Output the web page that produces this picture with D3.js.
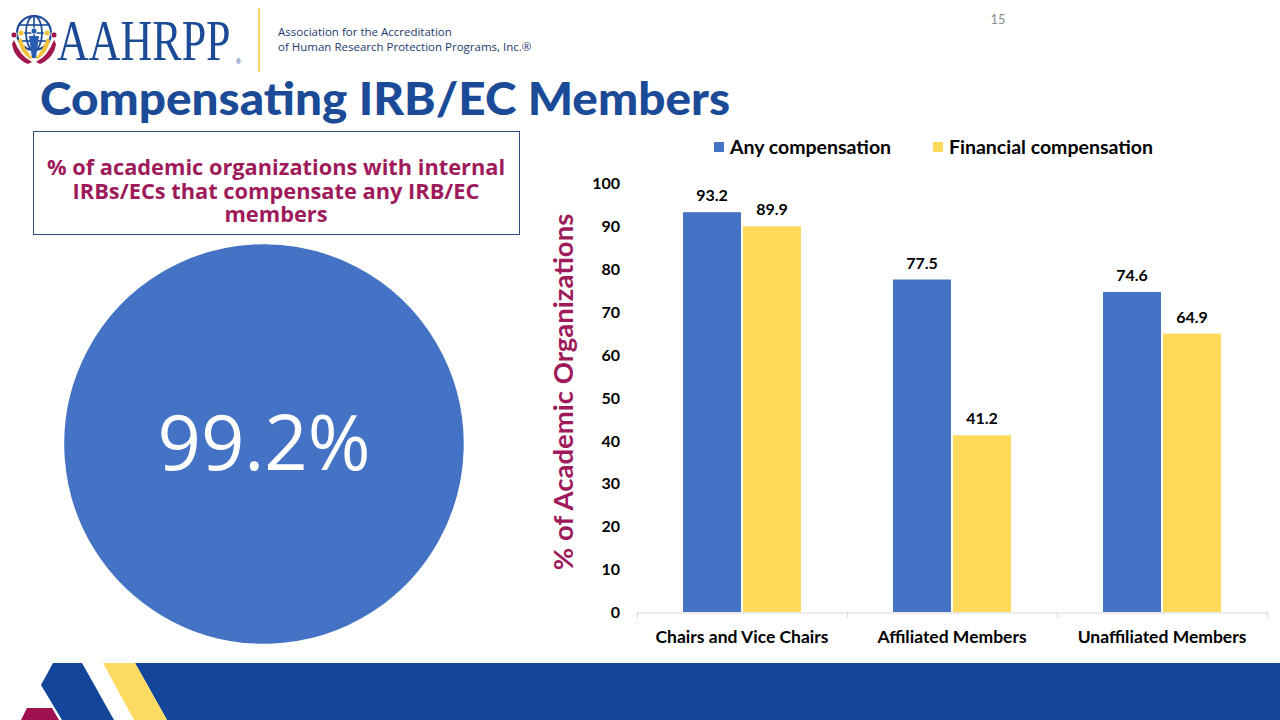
<!DOCTYPE html>
<html><head><meta charset="utf-8">
<script src="https://cdn.jsdelivr.net/npm/d3@7"></script>
<style>html,body{margin:0;padding:0;background:#fff;overflow:hidden}svg{display:block}</style>
</head><body>
<svg id="c" width="1280" height="720"></svg>
<script>
const categories = ["Chairs and Vice Chairs", "Affiliated Members", "Unaffiliated Members"];
const seriesNames = ["Any compensation", "Financial compensation"];
const anyComp = [93.2, 77.5, 74.6];
const financialComp = [89.9, 41.2, 64.9];
const yTicks = [0, 10, 20, 30, 40, 50, 60, 70, 80, 90, 100];
const pieValues = [99.2, 0.8];
const pieLabel = "99.2%";

const BLUE = "#4472C4", GOLD = "#FFD95A", MAROON = "#9E1A5A", NAVY = "#1B4A97", BAND = "#134598";
const svg = d3.select("#c");
const FONT = "Lato, 'Open Sans', sans-serif";

// ---------- header / logo ----------
const logo = svg.append("g");
const g0 = logo.append("g").attr("transform", "translate(34,33)");
g0.append("circle").attr("r", 17).attr("fill", "none").attr("stroke", NAVY).attr("stroke-width", 2.2);
g0.append("ellipse").attr("rx", 8).attr("ry", 17).attr("fill", "none").attr("stroke", NAVY).attr("stroke-width", 1.8);
g0.append("line").attr("x1", 0).attr("x2", 0).attr("y1", -17).attr("y2", 17).attr("stroke", NAVY).attr("stroke-width", 1.6);
[-8, 0, 8].forEach(y => g0.append("line").attr("x1", -Math.sqrt(289 - y * y)).attr("x2", Math.sqrt(289 - y * y)).attr("y1", y).attr("y2", y).attr("stroke", NAVY).attr("stroke-width", 1.6));
const ppl = logo.append("g").attr("transform", "translate(34,44)");
ppl.append("path").attr("d", "M-20,-4 Q-14,12 -2,18 L-6,20 Q-20,14 -22,0 Z").attr("fill", "#A3174F");
ppl.append("path").attr("d", "M20,-4 Q14,12 2,18 L6,20 Q20,14 22,0 Z").attr("fill", "#A3174F");
ppl.append("path").attr("d", "M-13,-6 Q-8,8 -1,14 L-4,15 Q-14,8 -16,-4 Z").attr("fill", "#F2C23A");
ppl.append("path").attr("d", "M13,-6 Q8,8 1,14 L4,15 Q14,8 16,-4 Z").attr("fill", "#F2C23A");
ppl.append("path").attr("d", "M-5,-8 L5,-8 L2,14 L-2,14 Z").attr("fill", "#2A5DB0");
[[-20, -9, "#A3174F"], [20, -9, "#A3174F"], [-13, -11, "#F2C23A"], [13, -11, "#F2C23A"], [0, -13, "#2A5DB0"]].forEach(d =>
  ppl.append("circle").attr("cx", d[0]).attr("cy", d[1]).attr("r", 3).attr("fill", d[2]).attr("stroke", "#fff").attr("stroke-width", 0.8));
logo.append("text").attr("transform", "translate(57,60) scale(1,1.3)").attr("font-family", "'Liberation Serif', 'DejaVu Serif', serif")
  .attr("font-size", 44).attr("fill", NAVY).text("AAHRPP");
logo.append("text").attr("x", 236).attr("y", 64).attr("font-family", "sans-serif").attr("font-size", 7).attr("fill", NAVY).text("®");
logo.append("line").attr("x1", 259).attr("x2", 259).attr("y1", 8).attr("y2", 72).attr("stroke", "#F5D35A").attr("stroke-width", 2);
logo.append("text").attr("x", 278).attr("y", 36).attr("font-family", "'Open Sans', sans-serif").attr("font-size", 11.5).attr("fill", "#1E3A6E").text("Association for the Accreditation");
logo.append("text").attr("x", 278).attr("y", 50.5).attr("font-family", "'Open Sans', sans-serif").attr("font-size", 11.5).attr("fill", "#1E3A6E").text("of Human Research Protection Programs, Inc.®");

svg.append("text").attr("x", 998).attr("y", 24).attr("text-anchor", "middle").attr("font-family", FONT).attr("font-size", 13).attr("fill", "#8c8c8c").text("15");

svg.append("text").attr("x", 40).attr("y", 115).attr("font-family", FONT).attr("font-weight", 900)
  .attr("font-size", 45).attr("fill", NAVY).attr("textLength", 690).attr("lengthAdjust", "spacingAndGlyphs").text("Compensating IRB/EC Members");

// ---------- left box ----------
svg.append("rect").attr("x", 33.5).attr("y", 131.5).attr("width", 486).attr("height", 103).attr("fill", "#fff").attr("stroke", "#2F4E7A").attr("stroke-width", 1);
const boxLines = ["% of academic organizations with internal", "IRBs/ECs that compensate any IRB/EC", "members"];
svg.append("g").selectAll("text").data(boxLines).join("text")
  .attr("x", 276).attr("y", (d, i) => 175 + i * 23.5).attr("text-anchor", "middle")
  .attr("font-family", "'Open Sans', sans-serif").attr("font-weight", 700).attr("font-size", 21.8).attr("fill", MAROON).text(d => d);

// ---------- pie ----------
const pieG = svg.append("g").attr("transform", "translate(264,444)");
const arc = d3.arc().innerRadius(0).outerRadius(199);
pieG.selectAll("path").data(d3.pie().sort(null)(pieValues)).join("path").attr("d", arc)
  .attr("fill", BLUE).attr("stroke", BLUE).attr("stroke-width", 1.5);
pieG.append("text").attr("y", 26).attr("text-anchor", "middle").attr("font-family", "'Open Sans', sans-serif")
  .attr("font-size", 76).attr("fill", "#fff").text(pieLabel);

// ---------- bar chart ----------
const x0 = d3.scaleBand().domain(categories).range([637, 1267]);
const x1 = d3.scaleBand().domain(seriesNames).range([46, 164]).paddingInner(0.034);
const y = d3.scaleLinear().domain([0, 100]).range([612, 183]);
const colors = d3.scaleOrdinal().domain(seriesNames).range([BLUE, GOLD]);
const rows = categories.map((c, i) => ({ cat: c, vals: [{ s: seriesNames[0], v: anyComp[i] }, { s: seriesNames[1], v: financialComp[i] }] }));

const yAxis = svg.append("g").attr("transform", "translate(620,0)")
  .call(d3.axisLeft(y).tickValues(yTicks).tickSize(0).tickPadding(0));
yAxis.select(".domain").remove();
yAxis.selectAll("text").attr("font-family", FONT).attr("font-weight", 700).attr("font-size", 16).attr("fill", "#000").attr("dy", "0.35em");

const grp = svg.append("g").selectAll("g").data(rows).join("g").attr("transform", d => `translate(${x0(d.cat)},0)`);
grp.selectAll("rect").data(d => d.vals).join("rect")
  .attr("x", d => x1(d.s)).attr("width", x1.bandwidth())
  .attr("y", d => y(d.v)).attr("height", d => y(0) - y(d.v)).attr("fill", d => colors(d.s));
grp.selectAll("text").data(d => d.vals).join("text")
  .attr("x", d => x1(d.s) + x1.bandwidth() / 2).attr("y", d => y(d.v) - 11)
  .attr("text-anchor", "middle").attr("font-family", FONT).attr("font-weight", 700).attr("font-size", 16).attr("fill", "#000")
  .text(d => d.v.toFixed(1));

const xAxis = svg.append("g").attr("transform", "translate(0,612.5)")
  .call(d3.axisBottom(x0).tickSize(0).tickPadding(18));
xAxis.select(".domain").attr("stroke", "#D9D9D9");
xAxis.selectAll("text").attr("font-family", FONT).attr("font-weight", 700).attr("font-size", 17.5).attr("fill", "#000");
const bounds = categories.map(c => x0(c)).concat([x0.range()[1]]);
svg.append("g").selectAll("line").data(bounds).join("line")
  .attr("x1", d => d + 0.5).attr("x2", d => d + 0.5).attr("y1", 612).attr("y2", 618).attr("stroke", "#D9D9D9");

svg.append("text").attr("transform", "translate(573,392) rotate(-90)").attr("text-anchor", "middle")
  .attr("font-family", FONT).attr("font-weight", 700).attr("font-size", 27.5).attr("fill", MAROON).text("% of Academic Organizations");

const legX = [714, 933];
const leg = svg.append("g").selectAll("g").data(seriesNames).join("g").attr("transform", (d, i) => `translate(${legX[i]},0)`);
leg.append("rect").attr("x", 0).attr("y", 142).attr("width", 10).attr("height", 10).attr("fill", d => colors(d));
leg.append("text").attr("x", 16).attr("y", 154).attr("font-family", FONT).attr("font-weight", 700).attr("font-size", 19.5).attr("fill", "#000").text(d => d);

// ---------- bottom band ----------
const band = svg.append("g");
band.append("path").attr("d", "M135,663 L1280,663 L1280,720 L167,720 Z").attr("fill", BAND);
band.append("path").attr("d", "M103,663 L135,663 L167,720 L134,720 Z").attr("fill", "#FDDA62");
band.append("path").attr("d", "M53,663 L82,663 L114,720 L62,720 L41,685 Z").attr("fill", BAND);
band.append("path").attr("d", "M27,708 L52,708 L59,720 L21,720 Z").attr("fill", "#A0114F");
</script>
</body></html>
